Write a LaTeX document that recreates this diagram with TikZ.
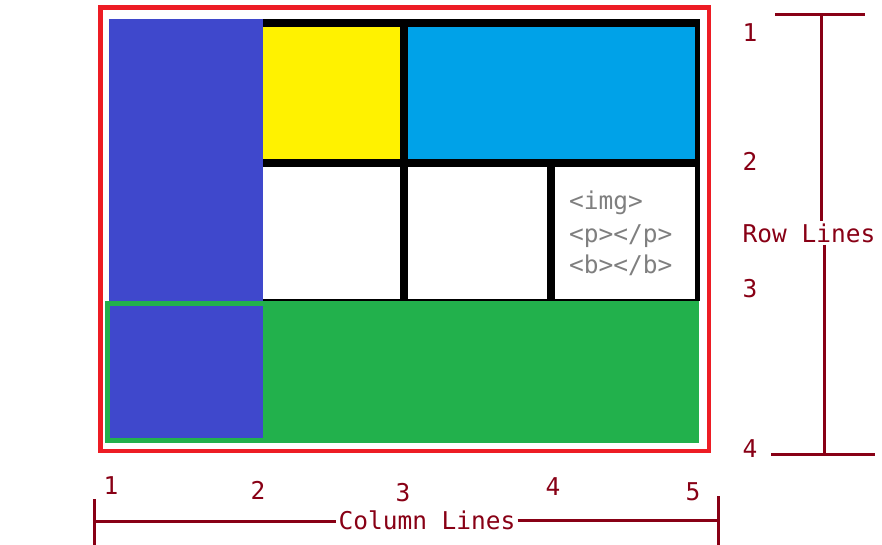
\documentclass[tikz,border=0pt]{standalone}
\usepackage{fontspec}
\newfontfamily\codefont{DejaVu Sans Mono}
\usetikzlibrary{positioning}
\definecolor{FrameRed}{HTML}{ED1C24}
\definecolor{LineRed}{HTML}{880015}
\definecolor{AreaBlue}{HTML}{3F48CC}
\definecolor{AreaYellow}{HTML}{FFF200}
\definecolor{AreaCyan}{HTML}{00A2E8}
\definecolor{AreaGreen}{HTML}{22B14C}
\definecolor{CodeGray}{HTML}{7F7F7F}

\begin{document}
\begin{tikzpicture}[x=1pt, y=-1pt,
    every node/.style={font=\codefont\fontsize{24.5}{28}\selectfont, inner sep=2pt},
    gridline/.style={line width=7.5pt},
    ruler/.style={LineRed, line width=3pt},
    lbl/.style={LineRed}]
  \useasboundingbox (0,0) rectangle (882,545);
  % Blue item spanning column 1 (upper part)
  \fill[AreaBlue] (109,19) rectangle (263,301);
  % Row 1: yellow and cyan items
  \fill[AreaYellow] (263,23) rectangle (404,163);
  \fill[AreaCyan] (404,23) rectangle (697,163);
  % Black grid lines
  \draw[gridline] (263,23) -- (697,23);
  \draw[line width=5pt] (697,19.3) -- (697,300);
  \draw[gridline] (263,163) -- (697,163);
  \draw[gridline] (404,23) -- (404,300);
  \draw[line width=8pt] (551,163) -- (551,300);
  \draw[line width=2pt] (263,300) -- (700,300);
  % Green item in row 3, blue item on top of it
  \fill[AreaGreen] (105,301) rectangle (699,443);
  \fill[AreaBlue] (110,306) rectangle (263,438);
  % Red grid container
  \draw[FrameRed, line width=4.5pt] (100.5,7.3) rectangle (709,451);
  % Items placed in the last cell
  \node[CodeGray, anchor=base west] (img) at (567,210) {<img>};
  \node[CodeGray, anchor=base west] (ptag) at (567,242) {<p></p>};
  \node[CodeGray, anchor=base west] (btag) at (567,273) {<b></b>};
  % Row line numbers and ruler
  \node[lbl] (row1) at (750,33) {1};
  \node[lbl] (row2) at (750,161) {2};
  \node[lbl] (row3) at (750,289) {3};
  \node[lbl] (row4) at (750,449) {4};
  \node[lbl] (rowlbl) at (809,233) {Row Lines};
  \coordinate (rtop) at (821,15);
  \coordinate (rbot) at (824,454);
  \draw[ruler] (775,15) -- (865,15);
  \draw[ruler] (771,454) -- (875,454);
  \draw[ruler] (rtop) -- (rtop |- rowlbl.north);
  \draw[ruler] (rbot |- rowlbl.south) -- (rbot);
  % Column line numbers and ruler
  \node[lbl] (col1) at (111,486) {1};
  \node[lbl] (col2) at (258,490) {2};
  \node[lbl] (col3) at (403,493) {3};
  \node[lbl] (col4) at (553,487) {4};
  \node[lbl] (col5) at (693,492) {5};
  \node[lbl] (collbl) at (427,520) {Column Lines};
  \coordinate (cleft) at (94,521);
  \coordinate (cright) at (718,520);
  \draw[ruler] (94,499) -- (94,545);
  \draw[ruler] (718,496) -- (718,545);
  \draw[ruler] (cleft) -- (cleft -| collbl.west);
  \draw[ruler] (cright -| collbl.east) -- (cright);
\end{tikzpicture}
\end{document}
